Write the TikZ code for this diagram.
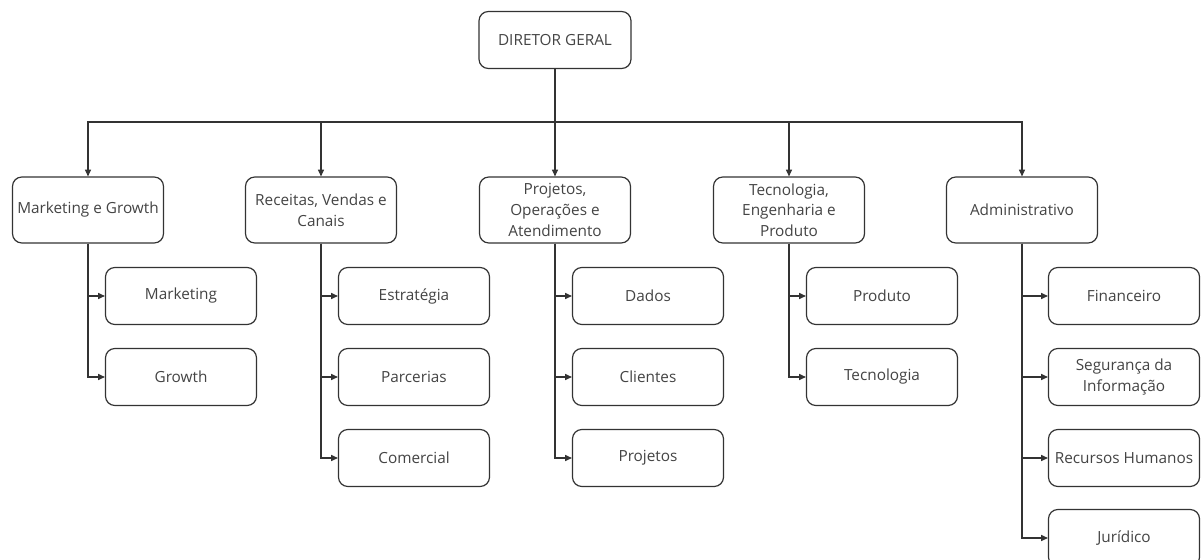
\documentclass[tikz,border=0pt]{standalone}
\usepackage{fontspec}
\setmainfont{Open Sans}
\usetikzlibrary{arrows.meta}
\definecolor{ink}{HTML}{333333}
\definecolor{txt}{HTML}{444444}
\tikzset{
  box/.style={draw=ink, line width=0.9pt, rounded corners=7pt, fill=white,
    align=center, inner sep=1pt, text=txt,
    font=\fontsize{11.5}{15.5}\selectfont},
  topbox/.style={box, minimum width=152*0.75pt, minimum height=57*0.75pt},
  areabox/.style={box, minimum width=151*0.75pt, minimum height=66*0.75pt},
  unitbox/.style={box, minimum width=151*0.75pt, minimum height=57*0.75pt},
  link/.style={draw=ink, line width=0.8pt, -{Triangle[length=5pt,width=4.5pt]}},
}
\begin{document}
\begin{tikzpicture}[x=0.75pt,y=-0.75pt]
\useasboundingbox (0,0) rectangle (1203,560);
\clip (0,0) rectangle (1203,560);

% top of the chart
\node[topbox] (dg) at (555,40) {DIRETOR GERAL};
\coordinate (bus) at (555,122);

% areas
\node[areabox] (mg)  at (88,210)   {Marketing e Growth};
\node[areabox] (rv)  at (321,210)  {Receitas, Vendas e\\Canais};
\node[areabox] (po)  at (555,210)  {Projetos,\\Operações e\\Atendimento};
\node[areabox] (te)  at (789,210)  {Tecnologia,\\Engenharia e\\Produto};
\node[areabox] (adm) at (1022,210) {Administrativo};

% units
\node[unitbox] (mkt) at (181,296) {Marketing};
\node[unitbox] (gro) at (181,377) {Growth};

\node[unitbox] (est) at (414,296) {Estratégia};
\node[unitbox] (par) at (414,377) {Parcerias};
\node[unitbox] (com) at (414,458) {Comercial};

\node[unitbox] (dad) at (648,296) {Dados};
\node[unitbox] (cli) at (648,377) {Clientes};
\node[unitbox] (prj) at (648,458) {Projetos};

\node[unitbox] (pro) at (882,296) {Produto};
\node[unitbox] (tec) at (882,377) {Tecnologia};

\node[unitbox] (fin) at (1124,296) {Financeiro};
\node[unitbox] (seg) at (1124,377) {Segurança da\\Informação};
\node[unitbox] (rh)  at (1124,458) {Recursos Humanos};
\node[unitbox] (jur) at (1124,538) {Jurídico};

% director to areas
\foreach \a in {mg,rv,po,te,adm}
  \draw[link] (dg.south) -- (bus) -| (\a.north);

% areas to units
\foreach \p/\c in {mg/mkt,mg/gro,rv/est,rv/par,rv/com,po/dad,po/cli,po/prj,
                   te/pro,te/tec,adm/fin,adm/seg,adm/rh,adm/jur}
  \draw[link] (\p.south) |- (\c.west);
\end{tikzpicture}
\end{document}
